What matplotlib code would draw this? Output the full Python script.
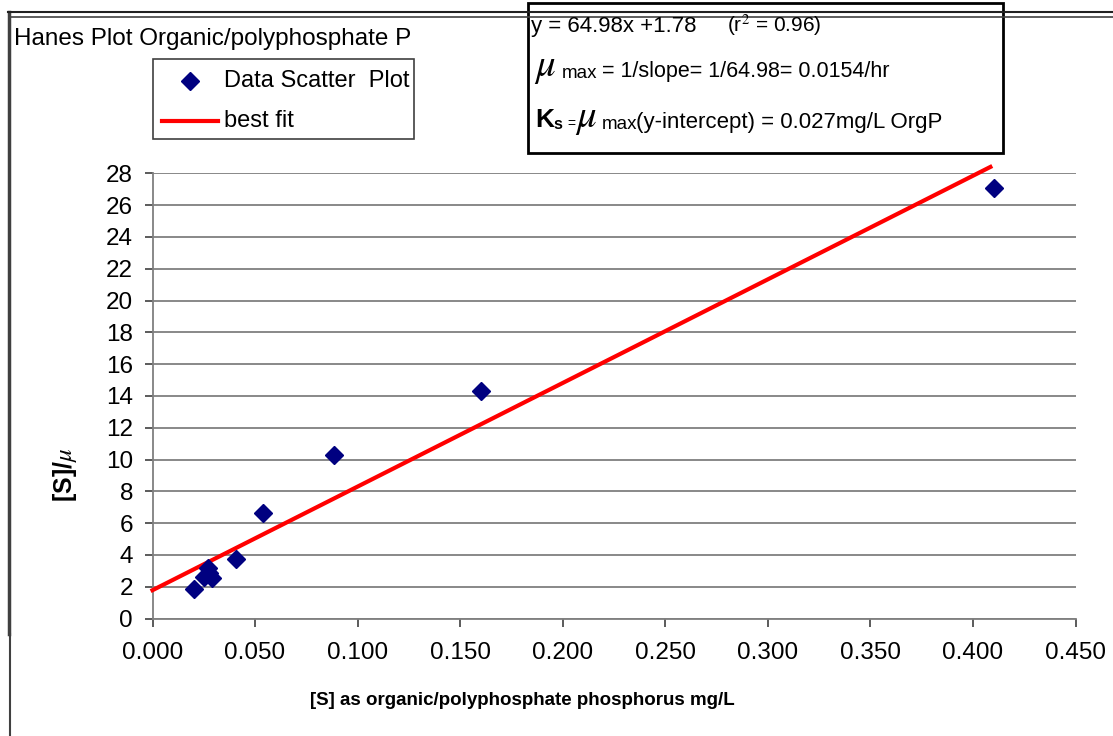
import matplotlib
matplotlib.use('Agg')
import matplotlib.pyplot as plt
from matplotlib.lines import Line2D
from matplotlib.patches import Rectangle

plt.rcParams['font.family'] = ['Liberation Sans', 'DejaVu Sans']
plt.rcParams['mathtext.fontset'] = 'stix'

# data
s_conc = [0.020, 0.0249, 0.0272, 0.0275, 0.0292, 0.0407, 0.054, 0.0885, 0.160, 0.4105]
s_over_mu = [1.86, 2.63, 3.16, 2.85, 2.53, 3.74, 6.63, 10.30, 14.31, 27.1]
fit_x = [0.0, 0.4085]
fit_y = [1.78, 28.4]

x_ticks = [0.0, 0.05, 0.10, 0.15, 0.20, 0.25, 0.30, 0.35, 0.40, 0.45]
y_ticks = list(range(0, 29, 2))

W, H = 1113, 736
GRID = '#7f7f7f'
NAVY = '#000080'


def px(x, y):
    return x / W, 1 - y / H


fig = plt.figure(figsize=(W / 100, H / 100), dpi=100)
ax = fig.add_axes([152.5 / W, 1 - 618.5 / H, (1075.5 - 152.5) / W, (618.5 - 173.3) / H])

ax.set_xlim(0, 0.45)
ax.set_ylim(0, 28)
ax.set_xticks(x_ticks)
ax.set_xticklabels([f'{v:.3f}' for v in x_ticks])
ax.set_yticks(y_ticks)
ax.set_yticklabels([str(v) for v in y_ticks])
ax.grid(axis='y', color=GRID, linewidth=1.3)
ax.set_axisbelow(True)
for side in ['top', 'right']:
    ax.spines[side].set_visible(False)
for side in ['left', 'bottom']:
    ax.spines[side].set_color(GRID)
    ax.spines[side].set_linewidth(1.3)
ax.tick_params(axis='both', direction='out', length=6, width=1.2, color='#404040',
               labelsize=17.5, pad=8)
ax.tick_params(axis='x', pad=11)

ax.plot(fit_x, fit_y, color='#ff0000', linewidth=3, clip_on=False, zorder=3)
ax.plot(s_conc, s_over_mu, linestyle='none', marker='D', markersize=9,
        color=NAVY, zorder=4, clip_on=False)

ax.set_xlabel('[S] as organic/polyphosphate phosphorus mg/L', fontsize=13.5,
              fontweight='bold')
ax.xaxis.set_label_coords(0.401, -0.165)
ax.set_ylabel(r'[S]/$\mu$', fontsize=18, fontweight='bold')
ax.yaxis.set_label_coords(-0.08, 0.3235)

# outer chart frame
fig.add_artist(Line2D([9 / W, 9 / W], [1 - 12 / H, 1 - 634 / H], color='#404040',
                      linewidth=2.5, transform=fig.transFigure))
fig.add_artist(Line2D([10 / W, 10 / W], [1 - 634 / H, 0], color='#404040',
                      linewidth=1.5, transform=fig.transFigure))
fig.add_artist(Line2D([8 / W, 1], [1 - 12 / H, 1 - 12 / H], color='#202020',
                      linewidth=1.5, transform=fig.transFigure))
fig.add_artist(Line2D([10 / W, 1], [1 - 16.5 / H, 1 - 16.5 / H], color='#404040',
                      linewidth=1.2, transform=fig.transFigure))

fig.text(*px(14, 45), 'Hanes Plot Organic/polyphosphate P', fontsize=17.5,
         va='baseline', ha='left')

# legend box
fig.add_artist(Rectangle(px(153, 139), 261 / W, 80 / H, transform=fig.transFigure,
                         facecolor='white', edgecolor='#404040', linewidth=1.2))
fig.add_artist(Line2D([px(190, 0)[0]], [px(0, 81)[1]], marker='D', markersize=9,
                      color=NAVY, linestyle='none', transform=fig.transFigure))
fig.text(*px(224, 87), 'Data Scatter  Plot', fontsize=17, va='baseline')
fig.add_artist(Line2D([162 / W, 218 / W], [1 - 121 / H, 1 - 121 / H], color='#ff0000',
                      linewidth=3, transform=fig.transFigure))
fig.text(*px(224, 127), 'best fit', fontsize=17, va='baseline')

# equation box
fig.add_artist(Rectangle(px(528, 153), 475 / W, 150 / H, transform=fig.transFigure,
                         facecolor='white', edgecolor='black', linewidth=2))
fig.text(*px(531, 32), 'y = 64.98x +1.78', fontsize=16, va='baseline')
fig.text(*px(727, 32), r'(r$^2$ = 0.96)', fontsize=15, va='baseline')
fig.text(*px(534, 76), r'$\mu$', fontsize=28, va='baseline')
fig.text(*px(562, 78), 'max', fontsize=13.5, va='baseline')
fig.text(*px(602, 77), '= 1/slope= 1/64.98= 0.0154/hr', fontsize=15.5, va='baseline')
fig.text(*px(535, 127), 'K', fontsize=19, fontweight='bold', va='baseline')
fig.text(*px(553, 129), 's', fontsize=11.5, fontweight='bold', va='baseline')
fig.text(*px(567, 128), '=', fontsize=10, va='baseline')
fig.text(*px(575, 127), r'$\mu$', fontsize=28, va='baseline')
fig.text(*px(602, 129), 'max', fontsize=13.5, va='baseline')
fig.text(*px(636, 128), '(y-intercept) = 0.027mg/L OrgP', fontsize=16, va='baseline')

fig.savefig('out.png', dpi=100)
